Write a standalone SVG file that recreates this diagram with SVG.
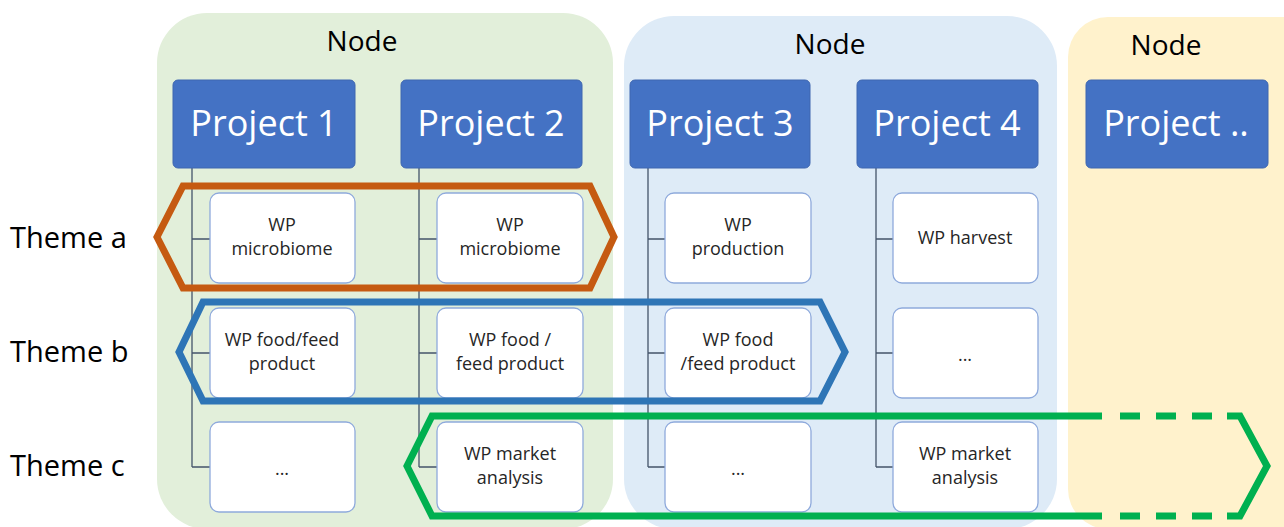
<svg xmlns="http://www.w3.org/2000/svg" width="1284" height="527" viewBox="0 0 1284 527">
<style>
text{font-family:"Open Sans","Liberation Sans",sans-serif}
.nodebg{stroke:none}
.nlabel{font-size:28px;fill:#000;text-anchor:middle}
.proj{fill:#4472C4;stroke:#3F67B0;stroke-width:1}
.ptext{font-size:36px;fill:#fff;text-anchor:middle}
.wp{fill:#fff;stroke:#8FAADC;stroke-width:1.3}
.wtext{font-size:18px;fill:#262626;text-anchor:middle}
.theme{font-size:29px;fill:#000}
.conn{stroke:#44546A;stroke-width:1.3;fill:none}
.hex{fill:none;stroke-width:7;stroke-linejoin:miter}
</style>
<rect width="1284" height="527" fill="#fff"/>
<g id="node-green"><rect class="nodebg" x="157" y="13" width="456" height="516" rx="50" fill="#E2EFDA"/><text class="nlabel" x="362" y="51">Node</text></g>
<g id="node-blue"><rect class="nodebg" x="624" y="16" width="433" height="513" rx="50" fill="#DEEBF7"/><text class="nlabel" x="830" y="54">Node</text></g>
<g id="node-yellow"><rect class="nodebg" x="1068" y="17" width="260" height="512" rx="40" fill="#FFF2CC"/><text class="nlabel" x="1166" y="55">Node</text></g>
<g id="connectors">
<path class="conn" d="M192 168V467M192 239H210M192 353H210M192 467H210"/>
<path class="conn" d="M419 168V467M419 239H437M419 353H437M419 467H437"/>
<path class="conn" d="M648 168V467M648 239H665M648 353H665M648 467H665"/>
<path class="conn" d="M876 168V467M876 239H893M876 353H893M876 467H893"/>
</g>
<g id="project1"><rect class="proj" x="173" y="80" width="182" height="88" rx="5"/><text class="ptext" x="264" y="136">Project 1</text></g>
<g id="project2"><rect class="proj" x="401" y="80" width="181" height="88" rx="5"/><text class="ptext" x="491" y="136">Project 2</text></g>
<g id="project3"><rect class="proj" x="630" y="80" width="180" height="88" rx="5"/><text class="ptext" x="720" y="136">Project 3</text></g>
<g id="project4"><rect class="proj" x="857" y="80" width="181" height="88" rx="5"/><text class="ptext" x="947" y="136">Project 4</text></g>
<g id="project5"><rect class="proj" x="1086" y="80" width="182" height="88" rx="5"/><text class="ptext" x="1176" y="136">Project ..</text></g>
<g id="wp-1a"><rect class="wp" x="210" y="193" width="145" height="90" rx="9"/><text class="wtext" x="282" y="231">WP</text><text class="wtext" x="282" y="255">microbiome</text></g>
<g id="wp-2a"><rect class="wp" x="437" y="193" width="146" height="90" rx="9"/><text class="wtext" x="510" y="231">WP</text><text class="wtext" x="510" y="255">microbiome</text></g>
<g id="wp-3a"><rect class="wp" x="665" y="193" width="146" height="90" rx="9"/><text class="wtext" x="738" y="231">WP</text><text class="wtext" x="738" y="255">production</text></g>
<g id="wp-4a"><rect class="wp" x="893" y="193" width="145" height="90" rx="9"/><text class="wtext" x="965" y="244">WP harvest</text></g>
<g id="wp-1b"><rect class="wp" x="210" y="308" width="145" height="90" rx="9"/><text class="wtext" x="282" y="346">WP food/feed</text><text class="wtext" x="282" y="370">product</text></g>
<g id="wp-2b"><rect class="wp" x="437" y="308" width="146" height="90" rx="9"/><text class="wtext" x="510" y="346">WP food /</text><text class="wtext" x="510" y="370">feed product</text></g>
<g id="wp-3b"><rect class="wp" x="665" y="308" width="146" height="90" rx="9"/><text class="wtext" x="738" y="346">WP food</text><text class="wtext" x="738" y="370">/feed product</text></g>
<g id="wp-4b"><rect class="wp" x="893" y="308" width="145" height="90" rx="9"/><text class="wtext" x="965" y="361">...</text></g>
<g id="wp-1c"><rect class="wp" x="210" y="422" width="145" height="90" rx="9"/><text class="wtext" x="282" y="475">...</text></g>
<g id="wp-2c"><rect class="wp" x="437" y="422" width="146" height="90" rx="9"/><text class="wtext" x="510" y="460">WP market</text><text class="wtext" x="510" y="484">analysis</text></g>
<g id="wp-3c"><rect class="wp" x="665" y="422" width="146" height="90" rx="9"/><text class="wtext" x="738" y="475">...</text></g>
<g id="wp-4c"><rect class="wp" x="893" y="422" width="145" height="90" rx="9"/><text class="wtext" x="965" y="460">WP market</text><text class="wtext" x="965" y="484">analysis</text></g>
<g id="themes">
<text class="theme" x="10" y="248">Theme a</text>
<text class="theme" x="10" y="362">Theme b</text>
<text class="theme" x="10" y="476">Theme c</text>
</g>
<g id="theme-outlines">
<polygon class="hex" stroke="#C55A11" points="157,237 183,186 590,186 614,237 590,288 183,288"/>
<polygon class="hex" stroke="#2E75B6" points="179,352 203,302 820,302 845,352 820,401 203,401"/>
<path class="hex" stroke="#00B050" d="M1102,416H432L407,466L432,516H1102"/>
<path class="hex" stroke="#00B050" d="M1227,416H1240L1267,466L1240,516H1227"/>
<path class="hex" stroke="#00B050" d="M1120,416H1140M1156,416H1176M1192,416H1212M1120,516H1140M1156,516H1176M1192,516H1212"/>
</g>
</svg>
